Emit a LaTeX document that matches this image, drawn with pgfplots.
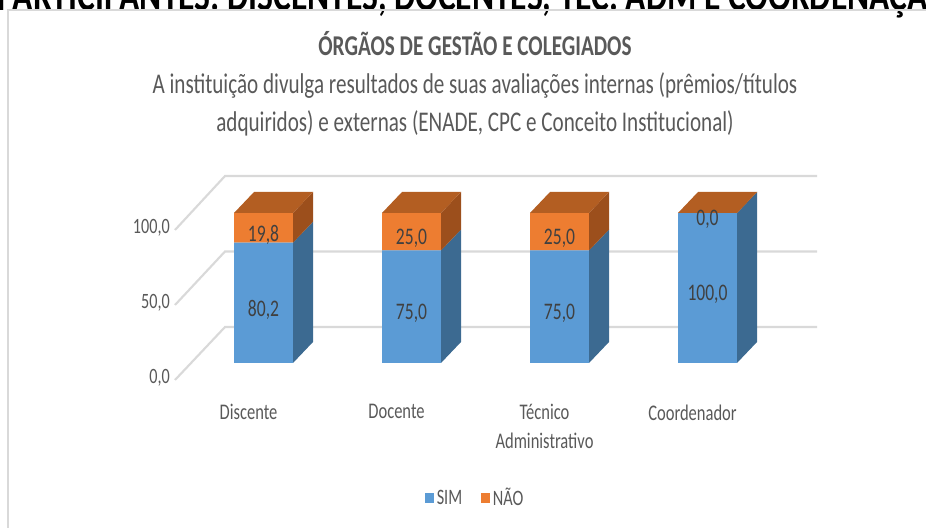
\documentclass[border=0pt]{standalone}
\usepackage{fontspec}
\setmainfont{Carlito}[FakeStretch=0.74]
\usepackage{pgfplots}
\pgfplotsset{compat=1.18}
\usepackage{pgfplotstable}

\definecolor{sim}{HTML}{5B9BD5}
\definecolor{simside}{HTML}{3C6A91}
\definecolor{nao}{HTML}{ED7D31}
\definecolor{naoside}{HTML}{9C4F1C}
\definecolor{naotop}{HTML}{B35E22}
\definecolor{txt}{HTML}{595959}
\definecolor{lbl}{HTML}{404040}
\definecolor{gridc}{HTML}{D9D9D9}

\pgfplotstableread{
cat SIM NAO
0 80.2 19.8
1 75.0 25.0
2 75.0 25.0
3 100.0 0.0
}\datatable

% 3D faces of the bars (half width 22.125pt, depth 15pt x 15.75pt)
\pgfdeclareplotmark{sideface}{%
  \pgfmathsetlengthmacro\hh{\h*1.125pt}%
  \pgfpathmoveto{\pgfqpoint{22.125pt}{0pt}}%
  \pgfpathlineto{\pgfqpoint{37.125pt}{15.75pt}}%
  \pgfpathlineto{\pgfpoint{37.125pt}{15.75pt-\hh}}%
  \pgfpathlineto{\pgfpoint{22.125pt}{-\hh}}%
  \pgfpathclose\pgfusepathqfill}
\pgfdeclareplotmark{topface}{%
  \pgfpathmoveto{\pgfqpoint{-22.125pt}{0pt}}%
  \pgfpathlineto{\pgfqpoint{22.125pt}{0pt}}%
  \pgfpathlineto{\pgfqpoint{37.125pt}{15.75pt}}%
  \pgfpathlineto{\pgfqpoint{-7.125pt}{15.75pt}}%
  \pgfpathclose\pgfusepathqfill}

\pgfplotsset{
  common/.style={
    at={(142.125pt,123.75pt)}, anchor=south west,
    x=111pt, y=1.125pt,
    xmin=-0.5, xmax=3.5, ymin=0, ymax=100,
    clip=false,
  },
  face/.style={
    forget plot, only marks, scatter,
    scatter/@pre marker code/.code={},
    scatter/@post marker code/.code={},
    mark options={draw=none, fill=#1},
  },
  vlabels/.style={
    nodes near coords={\pgfmathprintnumber[fixed,fixed zerofill,precision=1,use comma,assume math mode=true]{\pgfplotspointmeta}},
    nodes near coords style={anchor=center, inner sep=0pt, text=lbl,
      font=\fontsize{17.8pt}{20pt}\selectfont,
      yshift={-\h*0.5625pt-5pt}},
  },
}

\begin{document}
\begin{tikzpicture}[x=0.75pt, y=0.75pt]
\useasboundingbox (0,0) rectangle (926,528);

\node[anchor=base west, inner sep=0pt, font=\bfseries\fontsize{34pt}{34pt}\selectfont]
  at (-3,517) {PARTICIPANTES: DISCENTES, DOCENTES, TEC. ADM E COORDENAÇÃO};
\draw[gridc, line width=1.2] (8,-20) rectangle (950,518);

\node[anchor=base, inner sep=0pt, text=txt, font=\bfseries\fontsize{21.5pt}{24pt}\selectfont]
  at (475,472) {ÓRGÃOS DE GESTÃO E COLEGIADOS};
\node[anchor=base, inner sep=0pt, text=txt, font=\fontsize{21.4pt}{24pt}\selectfont]
  at (475,434) {A instituição divulga resultados de suas avaliações internas (prêmios/títulos};
\node[anchor=base, inner sep=0pt, text=txt, font=\fontsize{21.4pt}{24pt}\selectfont]
  at (475,396) {adquiridos) e externas (ENADE, CPC e Conceito Institucional)};

% back wall and side wall gridlines
\foreach \v in {0,50,100} {
  \draw[gridc, line width=1.6] (175,{148+1.5*\v}) -- (225,{201+1.51*\v}) -- (817,{201+1.51*\v});
}

\begin{axis}[
  common,
  ybar stacked, bar width=44.25pt,
  axis line style={draw=none}, major tick length=0pt,
  xtick={0,1,2,3},
  xticklabels={Discente,Docente,{Técnico\\Administrativo},Coordenador},
  xticklabel style={anchor=north, inner sep=0pt, align=center, text=txt,
    font=\fontsize{16.75pt}{21.75pt}\selectfont, xshift=-11.25pt, yshift=-31pt},
  ytick={0,50,100},
  yticklabel={\pgfmathprintnumber[fixed,fixed zerofill,precision=1,use comma,assume math mode=true]{\tick}},
  yticklabel style={anchor=east, inner sep=0pt, text=txt,
    font=\fontsize{16.4pt}{18pt}\selectfont, xshift=-14.6pt, yshift=-11.25pt},
  legend columns=2,
  legend style={at={(0.483,-0.9)}, anchor=center, draw=none, fill=none,
    text=txt, font=\fontsize{16.5pt}{18pt}\selectfont,
    /tikz/every even column/.append style={column sep=12pt}},
]
\addplot[fill=sim, draw=none,
  legend image code/.code={\path[fill=sim] (0pt,-3.5pt) rectangle (7pt,3.5pt);}]
  table[x=cat, y=SIM] {\datatable};
\addlegendentry{SIM}
\addplot[fill=nao, draw=none,
  legend image code/.code={\path[fill=nao] (0pt,-3.5pt) rectangle (7pt,3.5pt);}]
  table[x=cat, y=NAO] {\datatable};
\addlegendentry{NÃO}
\end{axis}

\begin{axis}[common, hide axis]
\addplot[face=simside, mark=sideface, vlabels,
  visualization depends on={\thisrow{SIM}\as\h}, point meta=explicit]
  table[x=cat, y=SIM, meta=SIM] {\datatable};
\addplot[face=naoside, mark=sideface,
  visualization depends on={\thisrow{NAO}\as\h}]
  table[x=cat, y expr=\thisrow{SIM}+\thisrow{NAO}] {\datatable};
\addplot[face=naotop, mark=topface, vlabels,
  visualization depends on={\thisrow{NAO}\as\h}, point meta=explicit]
  table[x=cat, y expr=\thisrow{SIM}+\thisrow{NAO}, meta=NAO] {\datatable};
\end{axis}
\end{tikzpicture}
\end{document}
